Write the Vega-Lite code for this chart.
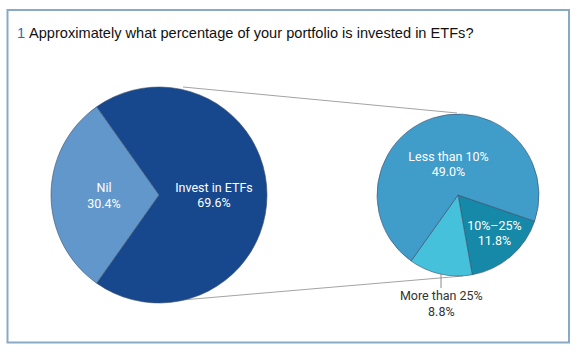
{
  "$schema": "https://vega.github.io/schema/vega-lite/v6.json",
  "width": 580,
  "height": 358,
  "padding": 0,
  "autosize": {"type": "none"},
  "background": "white",
  "config": {"view": {"stroke": null}},
  "resolve": {"scale": {"theta": "independent"}},
  "encoding": {
    "x": {"type": "quantitative", "scale": {"domain": [0, 580], "nice": false, "zero": false}, "axis": null},
    "y": {"type": "quantitative", "scale": {"domain": [0, 358], "nice": false, "zero": false, "reverse": true}, "axis": null}
  },
  "layer": [
    {
      "data": {"values": [{}]},
      "mark": {"type": "rect", "fill": null, "fillOpacity": 0, "stroke": "#8aa9c3", "strokeWidth": 2},
      "encoding": {
        "x": {"datum": 7.5}, "x2": {"datum": 569},
        "y": {"datum": 10}, "y2": {"datum": 342.5}
      }
    },
    {
      "data": {"values": [{"num": "1", "question": "Approximately what percentage of your portfolio is invested in ETFs?"}]},
      "layer": [
        {
          "mark": {"type": "text", "align": "left", "baseline": "alphabetic", "font": "Liberation Sans", "fontSize": 14.6, "color": "#2a6ead"},
          "encoding": {"x": {"datum": 17}, "y": {"datum": 38}, "text": {"field": "num"}}
        },
        {
          "mark": {"type": "text", "align": "left", "baseline": "alphabetic", "font": "Liberation Sans", "fontSize": 14.6, "color": "#111111"},
          "encoding": {"x": {"datum": 29}, "y": {"datum": 38}, "text": {"field": "question"}}
        }
      ]
    },
    {
      "data": {"values": [{}]},
      "mark": {"type": "rule", "color": "#a3a3a3", "strokeWidth": 1},
      "encoding": {"x": {"datum": 183}, "y": {"datum": 87}, "x2": {"datum": 457}, "y2": {"datum": 113}}
    },
    {
      "data": {"values": [{}]},
      "mark": {"type": "rule", "color": "#a3a3a3", "strokeWidth": 1},
      "encoding": {"x": {"datum": 182}, "y": {"datum": 300}, "x2": {"datum": 463}, "y2": {"datum": 276}}
    },
    {
      "data": {"values": [
        {"category": "Invest in ETFs", "value": 69.6, "rank": 1, "label": "Invest in ETFs\n69.6%"},
        {"category": "Nil", "value": 30.4, "rank": 2, "label": "Nil\n30.4%"}
      ]},
      "encoding": {
        "theta": {"field": "value", "type": "quantitative", "stack": true, "scale": {"range": [5.6674, 11.9506]}},
        "order": {"field": "rank", "type": "quantitative"},
        "x": {"datum": 159},
        "y": {"datum": 195}
      },
      "layer": [
        {
          "mark": {"type": "arc", "outerRadius": 108, "stroke": "#3b4d6b", "strokeWidth": 0.6},
          "encoding": {
            "color": {"field": "category", "type": "nominal", "legend": null,
              "scale": {"domain": ["Invest in ETFs", "Nil", "10%–25%", "More than 25%", "Less than 10%"],
                        "range": ["#17488e", "#6297cb", "#1589a7", "#45c1db", "#409cc9"]}}
          }
        },
        {
          "mark": {"type": "text", "radius": 55, "dy": -7, "lineBreak": "\n", "font": "Roboto", "fontSize": 12.5, "lineHeight": 15.5, "align": "center", "baseline": "middle"},
          "encoding": {
            "detail": {"field": "category"},
            "color": {"value": "white"},
            "text": {"field": "label"}
          }
        }
      ]
    },
    {
      "data": {"values": [
        {"category": "10%–25%", "value": 11.8, "rank": 1, "label": "10%–25%\n11.8%"},
        {"category": "More than 25%", "value": 8.8, "rank": 2, "label": "More than 25%\n8.8%"},
        {"category": "Less than 10%", "value": 49.0, "rank": 3, "label": "Less than 10%\n49.0%"}
      ]},
      "encoding": {
        "theta": {"field": "value", "type": "quantitative", "stack": true, "scale": {"range": [1.9, 8.1832]}},
        "order": {"field": "rank", "type": "quantitative"},
        "x": {"datum": 458},
        "y": {"datum": 195}
      },
      "layer": [
        {
          "mark": {"type": "arc", "outerRadius": 81, "stroke": "#3b4d6b", "strokeWidth": 0.6},
          "encoding": {
            "color": {"field": "category", "type": "nominal", "legend": null}
          }
        },
        {
          "mark": {"type": "text", "radius": 31, "dy": -8.5, "lineBreak": "\n", "font": "Roboto", "fontSize": 12.5, "lineHeight": 15.5, "align": "center", "baseline": "middle"},
          "encoding": {
            "detail": {"field": "category"},
            "color": {"value": "white"},
            "text": {"condition": {"test": "datum.category === 'Less than 10%'", "field": "label"}, "value": ""}
          }
        },
        {
          "mark": {"type": "text", "radius": 56, "dy": -12, "lineBreak": "\n", "font": "Roboto", "fontSize": 12.5, "lineHeight": 15.5, "align": "center", "baseline": "middle"},
          "encoding": {
            "detail": {"field": "category"},
            "color": {"value": "white"},
            "text": {"condition": {"test": "datum.category === '10%–25%'", "field": "label"}, "value": ""}
          }
        },
        {
          "mark": {"type": "text", "radius": 108, "dx": 7, "dy": -4, "lineBreak": "\n", "font": "Roboto", "fontSize": 12.5, "lineHeight": 15.5, "align": "center", "baseline": "middle"},
          "encoding": {
            "detail": {"field": "category"},
            "color": {"value": "#333333"},
            "text": {"condition": {"test": "datum.category === 'More than 25%'", "field": "label"}, "value": ""}
          }
        }
      ]
    },
    {
      "data": {"values": [{}]},
      "mark": {"type": "rule", "color": "#8a8a8a", "strokeWidth": 1},
      "encoding": {"x": {"datum": 441}, "y": {"datum": 274}, "x2": {"datum": 441}, "y2": {"datum": 288}}
    }
  ]
}
